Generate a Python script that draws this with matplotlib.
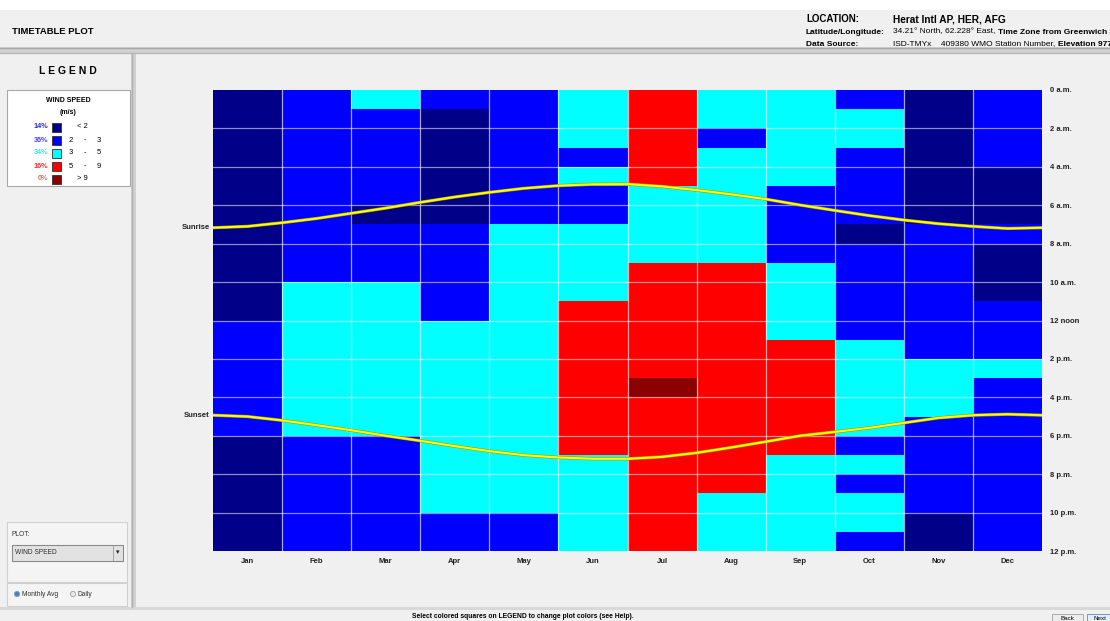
import numpy as np
import matplotlib
matplotlib.use("Agg")
import matplotlib.pyplot as plt
import matplotlib.patheffects as pe
from matplotlib.colors import ListedColormap, BoundaryNorm
from matplotlib.patches import Rectangle, Circle

plt.rcParams['font.family'] = ['Liberation Sans', 'DejaVu Sans']

# month columns and hour rows
months = ['Jan', 'Feb', 'Mar', 'Apr', 'May', 'Jun',
          'Jul', 'Aug', 'Sep', 'Oct', 'Nov', 'Dec']
hour_labels = ['0 a.m.', '2 a.m.', '4 a.m.', '6 a.m.', '8 a.m.', '10 a.m.',
               '12 noon', '2 p.m.', '4 p.m.', '6 p.m.', '8 p.m.', '10 p.m.',
               '12 p.m.']

# wind speed class for each hour 0..23 (0: <2, 1: 2-3, 2: 3-5, 3: 5-9, 4: >9 m/s)
jan = [0] * 12 + [1] * 6 + [0] * 6
feb = [1] * 10 + [2] * 8 + [1] * 6
mar = [2] + [1] * 5 + [0] + [1] * 3 + [2] * 8 + [1] * 6
apr = [1] + [0] * 6 + [1] * 5 + [2] * 10 + [1] * 2
may = [1] * 7 + [2] * 15 + [1] * 2
jun = [2, 2, 2, 1, 2, 1, 1] + [2] * 4 + [3] * 8 + [2] * 5
jul = [3] * 5 + [2] * 4 + [3] * 6 + [4] + [3] * 8
aug = [2, 2, 1] + [2] * 6 + [3] * 12 + [2] * 3
sep = [2] * 5 + [1] * 4 + [2] * 4 + [3] * 6 + [2] * 5
oct_ = [1, 2, 2, 1, 1, 1, 1, 0] + [1] * 5 + [2] * 5 + [1, 2, 1, 2, 2, 1]
nov = [0] * 7 + [1] * 7 + [2] * 3 + [1] * 5 + [0] * 2
dec = [1] * 4 + [0] * 3 + [1] + [0] * 3 + [1] * 3 + [2] + [1] * 9

# legend classes
class_colors = ['#000088', '#0000ff', '#00ffff', '#ff0000', '#8b0000']
class_labels = ['< 2', '2 - 3', '3 - 5', '5 - 9', '> 9']
class_share = [14, 36, 34, 16, 0]
share_colors = ['#2a2ad0', '#4040ff', '#30e8e8', '#f03030', '#d07070']

# sunrise / sunset hour, read at month starts and mid-months (25 points)
sunrise = [7.17, 7.10, 6.91, 6.69, 6.42, 6.15, 5.85, 5.57, 5.33, 5.12, 4.98,
           4.91, 4.90, 5.02, 5.21, 5.43, 5.68, 5.99, 6.27, 6.54, 6.77, 6.96,
           7.10, 7.21, 7.17]
sunset = [16.93, 17.00, 17.20, 17.45, 17.71, 18.00, 18.26, 18.54, 18.80, 19.01,
          19.13, 19.20, 19.20, 19.10, 18.89, 18.61, 18.31, 18.00, 17.80, 17.59,
          17.33, 17.07, 16.93, 16.88, 16.93]
sun_x = np.arange(25) * 0.5

W, H = 1110, 621
fig = plt.figure(figsize=(W / 100, H / 100), dpi=100, facecolor='#f0f0f0')

# background "window" drawn in pixel coordinates
bg = fig.add_axes([0, 0, 1, 1], zorder=0)
bg.set_xlim(0, W)
bg.set_ylim(H, 0)
bg.axis('off')


def box(x0, y0, x1, y1, **kw):
    bg.add_patch(Rectangle((x0, y0), x1 - x0, y1 - y0, **kw))


box(0, 0, W, 10, fc='white', ec='none')
box(0, 10, W, 47, fc='#f0f0f0', ec='none')
box(0, 47, W, 53, fc='#d0d0d0', ec='none')
bg.plot([0, W], [47.5, 47.5], color='#a8a8a8', lw=1)
bg.plot([0, W], [52.5, 52.5], color='#b8b8b8', lw=1)
box(131, 53, 136, 607, fc='#d0d0d0', ec='none')
bg.plot([131.5, 131.5], [53, 607], color='#b0b0b0', lw=1)
box(0, 607, W, 610, fc='#d8d8d8', ec='none')

# header texts
bg.text(12, 31, 'TIMETABLE PLOT', fontsize=6.8, fontweight='bold', va='center')
bg.text(806, 19, 'LOCATION:', fontsize=7, fontweight='bold', va='center')
bg.text(893, 19, 'Herat Intl AP, HER, AFG', fontsize=7.3, fontweight='bold', va='center')
bg.text(806, 32, 'Latitude/Longitude:', fontsize=6, fontweight='bold', va='center')
t = bg.text(893, 32, '34.21\u00b0 North, 62.228\u00b0 East, ', fontsize=6, va='center')
bg.annotate('Time Zone from Greenwich 4.5', xycoords=t, xy=(1, 0.5), va='center',
            fontsize=6, fontweight='bold')
bg.text(806, 44, 'Data Source:', fontsize=6, fontweight='bold', va='center')
t = bg.text(893, 44, 'ISD-TMYx    409380 WMO Station Number, ', fontsize=6, va='center')
bg.annotate('Elevation 977 m', xycoords=t, xy=(1, 0.5), va='center',
            fontsize=6, fontweight='bold')

# legend panel
bg.text(68, 71, 'L E G E N D', fontsize=7.5, fontweight='bold', ha='center', va='center')
box(7, 90, 130, 186, fc='white', ec='#a8a8a8', lw=0.8)
bg.text(68, 101, 'WIND SPEED', fontsize=5, fontweight='bold', ha='center', va='center')
bg.text(68, 113, '(m/s)', fontsize=5, fontweight='bold', ha='center', va='center')
for i in range(5):
    yy = 127 + 13 * i
    bg.text(48, yy, '%d%%' % class_share[i], fontsize=5.2, fontweight='bold',
            color=share_colors[i], ha='right', va='center')
    box(52, yy - 4.5, 61, yy + 4.5, fc=class_colors[i], ec='#303030', lw=0.6)
    parts = class_labels[i].split(' - ')
    if len(parts) == 2:
        bg.text(71, yy, parts[0], fontsize=5.5, ha='center', va='center')
        bg.text(85, yy, '-', fontsize=5.5, ha='center', va='center')
        bg.text(99, yy, parts[1], fontsize=5.5, ha='center', va='center')
    else:
        bg.text(82, yy, class_labels[i], fontsize=5.5, ha='center', va='center')

# plot selector
box(7, 522, 127, 582, fc='#f4f4f4', ec='#d0d0d0', lw=0.8)
bg.text(12, 535, 'PLOT:', fontsize=4.8, va='center', color='#303030')
box(12, 545, 123, 561, fc='#e2e2e2', ec='#8a8a8a', lw=0.8)
bg.plot([113, 113], [546, 560], color='#9a9a9a', lw=0.6)
bg.text(15, 553, 'WIND SPEED', fontsize=4.8, va='center', color='#303030')
bg.text(118, 553, '\u25be', fontsize=5, ha='center', va='center', color='#202020')
box(7, 583, 127, 606, fc='#f4f4f4', ec='#d0d0d0', lw=0.8)
bg.add_patch(Circle((17, 594), 2.6, fc='#4a7fc0', ec='#7a9ac0', lw=0.6))
bg.text(22, 594, 'Monthly Avg', fontsize=4.8, va='center', color='#303030')
bg.add_patch(Circle((73, 594), 2.6, fc='#e8e8e8', ec='#a0a0a0', lw=0.6))
bg.text(78, 594, 'Daily', fontsize=4.8, va='center', color='#303030')

# status bar
bg.text(523, 617, 'Select colored squares on LEGEND to change plot colors (see Help).',
        fontsize=4.9, fontweight='bold', ha='center', va='center')
box(1052, 614, 1083, 625, fc='#ececec', ec='#a0a0a0', lw=0.6)
bg.text(1067, 619, 'Back', fontsize=4.5, ha='center', va='center')
box(1087, 614, 1115, 625, fc='#e4eef8', ec='#5a8ac0', lw=0.6)
bg.text(1100, 619, 'Next', fontsize=4.5, ha='center', va='center')

# main timetable
ax = fig.add_axes([213 / W, 1 - 551 / H, 829 / W, 461 / H], zorder=1)
data = np.array([jan, feb, mar, apr, may, jun, jul, aug, sep, oct_, nov, dec]).T
cmap = ListedColormap(class_colors)
norm = BoundaryNorm(np.arange(-0.5, 5.5, 1), cmap.N)
ax.pcolormesh(np.arange(13), np.arange(25), data, cmap=cmap, norm=norm)
ax.set_xlim(0, 12)
ax.set_ylim(24, 0)
for x in range(1, 12):
    ax.axvline(x, color='white', alpha=0.65, lw=0.9)
for y in range(2, 24, 2):
    ax.axhline(y, color='white', alpha=0.55, lw=0.9)
for s in ax.spines.values():
    s.set_visible(False)

ax.set_xticks(np.arange(12) + 0.5, months)
ax.yaxis.tick_right()
ax.set_yticks(np.arange(0, 25, 2), hour_labels)
ax.tick_params(axis='both', length=0, labelsize=5.5)
ax.tick_params(axis='x', pad=5)
ax.tick_params(axis='y', pad=6)
for lab in ax.get_xticklabels() + ax.get_yticklabels():
    lab.set_fontweight('bold')
    lab.set_color('#202020')

stroke = [pe.Stroke(linewidth=2.3, foreground='#9a9a10'), pe.Normal()]
ax.plot(sun_x, sunrise, color='#ffff00', lw=1.5, path_effects=stroke)
ax.plot(sun_x, sunset, color='#ffff00', lw=1.5, path_effects=stroke)
ax.text(-0.05, sunrise[0], 'Sunrise', fontsize=5.5, fontweight='bold',
        ha='right', va='center', color='#202020', clip_on=False)
ax.text(-0.05, sunset[0], 'Sunset', fontsize=5.5, fontweight='bold',
        ha='right', va='center', color='#202020', clip_on=False)

fig.savefig('out.png', dpi=100, facecolor=fig.get_facecolor())
